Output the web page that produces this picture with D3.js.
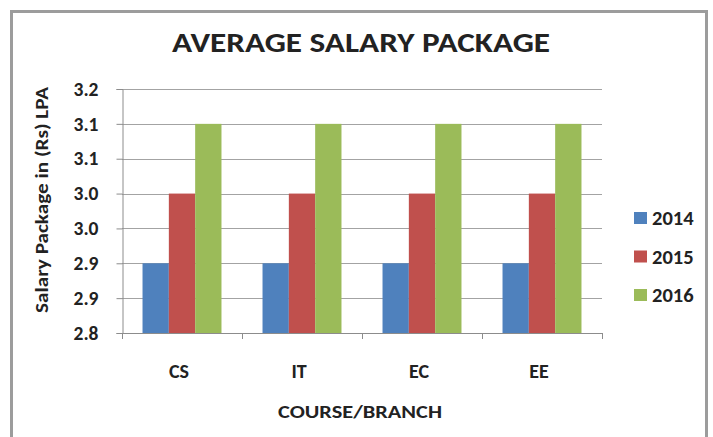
<!DOCTYPE html>
<html>
<head>
<meta charset="utf-8">
<script src="https://cdn.jsdelivr.net/npm/d3@7"></script>
<style>
  body { margin: 0; background: #fff; }
  svg text { font-family: Carlito, Lato, sans-serif; font-weight: bold; fill: #222; }
</style>
</head>
<body>
<div class="chart"></div>
<script>
const categories = ['CS', 'IT', 'EC', 'EE'];
const years = ['2014', '2015', '2016'];
const values2014 = [2.9, 2.9, 2.9, 2.9];
const values2015 = [3.0, 3.0, 3.0, 3.0];
const values2016 = [3.1, 3.1, 3.1, 3.1];
const yTicks = [2.8, 2.85, 2.9, 2.95, 3.0, 3.05, 3.1, 3.15];
const yTickLabels = ['2.8', '2.9', '2.9', '3.0', '3.0', '3.1', '3.1', '3.2'];
const colors = ['#4f81bd', '#c0504d', '#9bbb59'];

const seriesValues = [values2014, values2015, values2016];

const width = 713;
const height = 437;
const plot = { left: 122, right: 602, top: 89, bottom: 333 };

const svg = d3.select('.chart').append('svg')
  .attr('width', width)
  .attr('height', height);

svg.append('rect')
  .attr('width', width)
  .attr('height', height)
  .attr('fill', '#fff');

// outer frame
svg.append('rect')
  .attr('x', 11.5)
  .attr('y', 11.5)
  .attr('width', 695)
  .attr('height', 440)
  .attr('fill', 'none')
  .attr('stroke', '#9c9c9c')
  .attr('stroke-width', 3);

const x = d3.scaleBand()
  .domain(categories)
  .range([plot.left, plot.right])
  .paddingInner(0.342)
  .paddingOuter(0.171);

const xSub = d3.scaleBand()
  .domain(years)
  .range([0, x.bandwidth()]);

const y = d3.scaleLinear()
  .domain([2.8, 3.15])
  .range([plot.bottom, plot.top]);

// gridlines
svg.append('g')
  .selectAll('line')
  .data(yTicks)
  .enter()
  .append('line')
  .attr('x1', plot.left)
  .attr('x2', plot.right)
  .attr('y1', d => Math.round(y(d)) + 0.5)
  .attr('y2', d => Math.round(y(d)) + 0.5)
  .attr('stroke', '#a3a3a3')
  .attr('stroke-width', 1.2);

// bars
const rows = [];
categories.forEach((c, i) => {
  years.forEach((yr, j) => rows.push({ cat: c, year: yr, value: seriesValues[j][i], s: j }));
});

svg.append('g')
  .selectAll('rect')
  .data(rows)
  .enter()
  .append('rect')
  .attr('x', d => x(d.cat) + xSub(d.year))
  .attr('y', d => y(d.value))
  .attr('width', xSub.bandwidth())
  .attr('height', d => y(2.8) - y(d.value))
  .attr('fill', d => colors[d.s]);

// y axis
const yAxis = d3.axisLeft(y)
  .tickValues(yTicks)
  .tickFormat((d, i) => yTickLabels[i])
  .tickSize(6)
  .tickPadding(18);

const gy = svg.append('g')
  .attr('transform', `translate(${plot.left + 0.5},0)`)
  .call(yAxis);
gy.select('.domain').attr('stroke', '#8c8c8c');
gy.selectAll('.tick line').attr('stroke', '#8c8c8c');
gy.selectAll('.tick text')
  .style('font-size', '19.5px')
  .attr('font-family', null)
  .attr('fill', '#222');

// x axis
const xEdges = categories.map(c => x(c) - x.step() * x.paddingInner() / 2).concat([plot.right]);
const gx = svg.append('g');
gx.append('line')
  .attr('x1', plot.left)
  .attr('x2', plot.right)
  .attr('y1', plot.bottom + 0.5)
  .attr('y2', plot.bottom + 0.5)
  .attr('stroke', '#8c8c8c');
gx.selectAll('.tickmark')
  .data(xEdges)
  .enter()
  .append('line')
  .attr('class', 'tickmark')
  .attr('x1', d => Math.round(d) + 0.5)
  .attr('x2', d => Math.round(d) + 0.5)
  .attr('y1', plot.bottom)
  .attr('y2', plot.bottom + 6)
  .attr('stroke', '#8c8c8c');
gx.selectAll('.catlabel')
  .data(categories)
  .enter()
  .append('text')
  .attr('class', 'catlabel')
  .attr('x', d => x(d) + x.bandwidth() / 2 - 3)
  .attr('y', 378)
  .attr('text-anchor', 'middle')
  .style('font-size', '20px')
  .text(d => d);

// titles
svg.append('text')
  .attr('x', 361)
  .attr('y', 52)
  .attr('text-anchor', 'middle')
  .style('font-size', '28px')
  .attr('textLength', 378)
  .attr('lengthAdjust', 'spacingAndGlyphs')
  .text('AVERAGE SALARY PACKAGE');

svg.append('text')
  .attr('x', 360)
  .attr('y', 418)
  .attr('text-anchor', 'middle')
  .style('font-size', '18px')
  .attr('textLength', 164)
  .attr('lengthAdjust', 'spacingAndGlyphs')
  .text('COURSE/BRANCH');

svg.append('text')
  .attr('transform', 'translate(48,200) rotate(-90)')
  .attr('text-anchor', 'middle')
  .style('font-size', '17px')
  .attr('textLength', 226)
  .attr('lengthAdjust', 'spacingAndGlyphs')
  .text('Salary Package in (Rs) LPA');

// legend
const legend = svg.append('g')
  .selectAll('g')
  .data(years)
  .enter()
  .append('g')
  .attr('transform', (d, i) => `translate(634,${212 + i * 38.5})`);
legend.append('rect')
  .attr('width', 13)
  .attr('height', 12)
  .attr('fill', (d, i) => colors[i]);
legend.append('text')
  .attr('x', 18)
  .attr('y', 13)
  .style('font-size', '20.5px')
  .text(d => d);
</script>
</body>
</html>
